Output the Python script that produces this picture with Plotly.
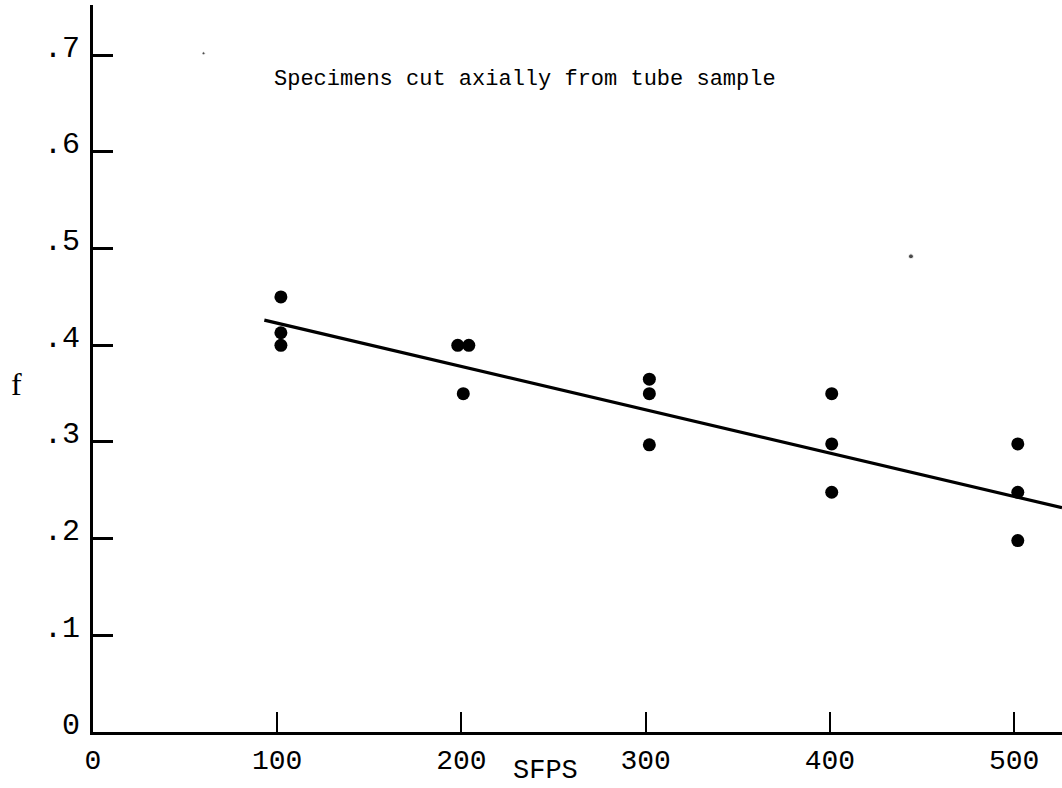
import plotly.graph_objects as go

# Data
sfps = [102, 102, 102, 198, 204, 201, 302, 302, 302, 401, 401, 401, 502, 502, 502]
f_vals = [0.450, 0.413, 0.400, 0.400, 0.400, 0.350, 0.365, 0.350, 0.297,
          0.350, 0.298, 0.248, 0.298, 0.248, 0.198]

fit_x = [93, 526]
fit_f = [0.426, 0.232]

speck_x = [60, 444]
speck_f = [0.702, 0.492]

x_tickvals = [0, 100, 200, 300, 400, 500]
x_ticktext = ["0", "100", "200", "300", "400", "500"]
y_tickvals = [0, 0.1, 0.2, 0.3, 0.4, 0.5, 0.6, 0.7]
y_ticktext = ["0", ".1", ".2", ".3", ".4", ".5", ".6", ".7"]

MONO = "Liberation Mono, Courier New, monospace"
SERIF = "Liberation Serif, serif"

W, H = 1062, 788
L, R, T, B = 93, 0, 5, 56
pw, ph = W - L - R, H - T - B


def px2paper(px, py):
    return (px - L) / pw, (H - B - py) / ph


fig = go.Figure()
fig.add_trace(go.Scatter(x=fit_x, y=fit_f, mode="lines",
                         line=dict(color="black", width=3.2), showlegend=False))
fig.add_trace(go.Scatter(x=sfps, y=f_vals, mode="markers",
                         marker=dict(color="black", size=13), showlegend=False))
fig.add_trace(go.Scatter(x=speck_x, y=speck_f, mode="markers",
                         marker=dict(color="black", size=[3, 5]), showlegend=False))

tx, ty = px2paper(272, 80)
sx, sy = px2paper(545, 771)
fx, fy = px2paper(16, 384)

fig.update_layout(
    width=W, height=H,
    margin=dict(l=L, r=R, t=T, b=B),
    paper_bgcolor="white", plot_bgcolor="white",
    font=dict(family=MONO, color="black"),
    xaxis=dict(range=[0, 526], showgrid=False, zeroline=False,
               showline=True, linecolor="black", linewidth=3,
               ticks="inside", ticklen=20, tickwidth=2, tickcolor="black",
               tickvals=x_tickvals, ticktext=x_ticktext,
               tickfont=dict(size=28, family=MONO)),
    yaxis=dict(range=[0, 0.752], showgrid=False, zeroline=False,
               showline=True, linecolor="black", linewidth=3,
               ticks="inside", ticklen=20, tickwidth=3, tickcolor="black",
               tickvals=y_tickvals, ticktext=y_ticktext,
               tickfont=dict(size=30, family=MONO),
               ticklabelshift=-9, ticklabelstandoff=4),
    annotations=[
        dict(text="Specimens cut axially from tube sample", x=tx, y=ty,
             xref="paper", yref="paper", showarrow=False,
             xanchor="left", yanchor="middle",
             font=dict(size=22, family=MONO)),
        dict(text="SFPS", x=sx, y=sy, xref="paper", yref="paper",
             showarrow=False, xanchor="center", yanchor="middle",
             font=dict(size=27, family=MONO)),
        dict(text="f", x=fx, y=fy, xref="paper", yref="paper",
             showarrow=False, xanchor="center", yanchor="middle",
             font=dict(size=32, family=SERIF)),
    ],
)

fig.write_html("out.html")
